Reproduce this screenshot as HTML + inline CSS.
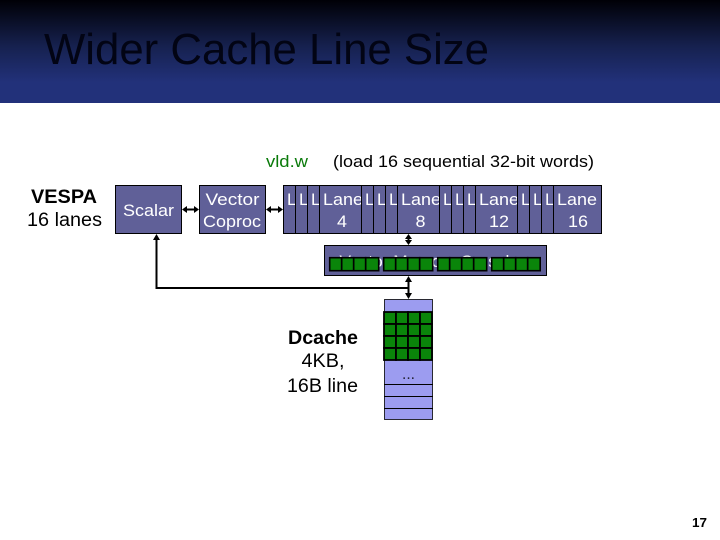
<!DOCTYPE html>
<html>
<head>
<meta charset="utf-8">
<style>
html,body{margin:0;padding:0;background:#fff;width:720px;height:540px;overflow:hidden}
svg{display:block}
text{font-family:"Liberation Sans",sans-serif}
</style>
</head>
<body>
<svg width="720" height="540" viewBox="0 0 720 540" xmlns="http://www.w3.org/2000/svg">
<defs>
<linearGradient id="g" x1="0" y1="0" x2="0" y2="1">
<stop offset="0" stop-color="#000006"/>
<stop offset="0.45" stop-color="#16214f"/>
<stop offset="0.8" stop-color="#22317a"/>
<stop offset="1" stop-color="#22317a"/>
</linearGradient>
</defs>
<rect x="0" y="0" width="720" height="103" fill="url(#g)"/>
<text x="44" y="64" font-size="44" fill="#020414" textLength="445" lengthAdjust="spacingAndGlyphs">Wider Cache Line Size</text>

<text x="266" y="167" font-size="17" fill="#0a7a0a" textLength="42" lengthAdjust="spacingAndGlyphs">vld.w</text>
<text x="333" y="167" font-size="17" fill="#000" textLength="261" lengthAdjust="spacingAndGlyphs">(load 16 sequential 32-bit words)</text>

<text x="31" y="203" font-size="19" font-weight="bold" fill="#000" textLength="66" lengthAdjust="spacingAndGlyphs">VESPA</text>
<text x="27" y="226" font-size="19" fill="#000" textLength="75" lengthAdjust="spacingAndGlyphs">16 lanes</text>

<g fill="#606098" stroke="#000" stroke-width="1">
<rect x="115.5" y="185.5" width="66" height="48"/>
<rect x="199.5" y="185.5" width="66" height="48"/>
<rect x="324.5" y="245.5" width="222" height="30"/>
</g>
<g fill="#fff" font-size="17">
<text x="123" y="216" textLength="51" lengthAdjust="spacingAndGlyphs">Scalar</text>
<text x="205.5" y="205" textLength="54" lengthAdjust="spacingAndGlyphs">Vector</text>
<text x="203" y="227" textLength="58" lengthAdjust="spacingAndGlyphs">Coproc</text>
<text x="339.5" y="267" textLength="191" lengthAdjust="spacingAndGlyphs">Vector Memory Crossbar</text>
</g>

<g font-size="17" fill="#fff">
<rect x="283.5" y="185.5" width="12" height="48" fill="#606098" stroke="#000"/><text x="287" y="205" textLength="9.5" lengthAdjust="spacingAndGlyphs">L</text>
<rect x="295.5" y="185.5" width="12" height="48" fill="#606098" stroke="#000"/><text x="299" y="205" textLength="9.5" lengthAdjust="spacingAndGlyphs">L</text>
<rect x="307.5" y="185.5" width="12" height="48" fill="#606098" stroke="#000"/><text x="311" y="205" textLength="9.5" lengthAdjust="spacingAndGlyphs">L</text>
<rect x="319.5" y="185.5" width="42" height="48" fill="#606098" stroke="#000"/><text x="323" y="205" textLength="40" lengthAdjust="spacingAndGlyphs">Lane</text><text x="337" y="227" textLength="10" lengthAdjust="spacingAndGlyphs">4</text>
<rect x="361.5" y="185.5" width="12" height="48" fill="#606098" stroke="#000"/><text x="365" y="205" textLength="9.5" lengthAdjust="spacingAndGlyphs">L</text>
<rect x="373.5" y="185.5" width="12" height="48" fill="#606098" stroke="#000"/><text x="377" y="205" textLength="9.5" lengthAdjust="spacingAndGlyphs">L</text>
<rect x="385.5" y="185.5" width="12" height="48" fill="#606098" stroke="#000"/><text x="389" y="205" textLength="9.5" lengthAdjust="spacingAndGlyphs">L</text>
<rect x="397.5" y="185.5" width="42" height="48" fill="#606098" stroke="#000"/><text x="401" y="205" textLength="40" lengthAdjust="spacingAndGlyphs">Lane</text><text x="415.5" y="227" textLength="10" lengthAdjust="spacingAndGlyphs">8</text>
<rect x="439.5" y="185.5" width="12" height="48" fill="#606098" stroke="#000"/><text x="443" y="205" textLength="9.5" lengthAdjust="spacingAndGlyphs">L</text>
<rect x="451.5" y="185.5" width="12" height="48" fill="#606098" stroke="#000"/><text x="455" y="205" textLength="9.5" lengthAdjust="spacingAndGlyphs">L</text>
<rect x="463.5" y="185.5" width="12" height="48" fill="#606098" stroke="#000"/><text x="467" y="205" textLength="9.5" lengthAdjust="spacingAndGlyphs">L</text>
<rect x="475.5" y="185.5" width="42" height="48" fill="#606098" stroke="#000"/><text x="479" y="205" textLength="40" lengthAdjust="spacingAndGlyphs">Lane</text><text x="489" y="227" textLength="20" lengthAdjust="spacingAndGlyphs">12</text>
<rect x="517.5" y="185.5" width="12" height="48" fill="#606098" stroke="#000"/><text x="521" y="205" textLength="9.5" lengthAdjust="spacingAndGlyphs">L</text>
<rect x="529.5" y="185.5" width="12" height="48" fill="#606098" stroke="#000"/><text x="533" y="205" textLength="9.5" lengthAdjust="spacingAndGlyphs">L</text>
<rect x="541.5" y="185.5" width="12" height="48" fill="#606098" stroke="#000"/><text x="545" y="205" textLength="9.5" lengthAdjust="spacingAndGlyphs">L</text>
<rect x="553.5" y="185.5" width="48" height="48" fill="#606098" stroke="#000"/><text x="557" y="205" textLength="40" lengthAdjust="spacingAndGlyphs">Lane</text><text x="568" y="227" textLength="20" lengthAdjust="spacingAndGlyphs">16</text>
</g>

<g fill="#0a850a" stroke="#000" stroke-width="1.6">
<rect x="329.7" y="257.7" width="12" height="13"/><rect x="341.7" y="257.7" width="12" height="13"/><rect x="353.7" y="257.7" width="12" height="13"/><rect x="365.7" y="257.7" width="13" height="13"/>
<rect x="383.7" y="257.7" width="12" height="13"/><rect x="395.7" y="257.7" width="12" height="13"/><rect x="407.7" y="257.7" width="12" height="13"/><rect x="419.7" y="257.7" width="13" height="13"/>
<rect x="437.7" y="257.7" width="12" height="13"/><rect x="449.7" y="257.7" width="12" height="13"/><rect x="461.7" y="257.7" width="12" height="13"/><rect x="473.7" y="257.7" width="13" height="13"/>
<rect x="491.7" y="257.7" width="12" height="13"/><rect x="503.7" y="257.7" width="12" height="13"/><rect x="515.7" y="257.7" width="12" height="13"/><rect x="527.7" y="257.7" width="12.5" height="13"/>
</g>

<rect x="384.5" y="299.5" width="48" height="120" fill="#9c9cf0" stroke="#000" stroke-width="0.8"/>
<path stroke="#000" stroke-width="1" d="M384 384.5h49M384 396.5h49M384 408.5h49" fill="none"/>
<text x="402" y="379" font-size="16" fill="#223" textLength="13" lengthAdjust="spacingAndGlyphs">...</text>
<g fill="#0a850a" stroke="#000" stroke-width="1.8">
<rect x="384" y="312" width="12" height="12"/><rect x="396" y="312" width="12" height="12"/><rect x="408" y="312" width="12" height="12"/><rect x="420" y="312" width="12" height="12"/>
<rect x="384" y="324" width="12" height="12"/><rect x="396" y="324" width="12" height="12"/><rect x="408" y="324" width="12" height="12"/><rect x="420" y="324" width="12" height="12"/>
<rect x="384" y="336" width="12" height="12"/><rect x="396" y="336" width="12" height="12"/><rect x="408" y="336" width="12" height="12"/><rect x="420" y="336" width="12" height="12"/>
<rect x="384" y="348" width="12" height="12"/><rect x="396" y="348" width="12" height="12"/><rect x="408" y="348" width="12" height="12"/><rect x="420" y="348" width="12" height="12"/>
</g>

<text x="288" y="344" font-size="19" font-weight="bold" fill="#000" textLength="70" lengthAdjust="spacingAndGlyphs">Dcache</text>
<text x="301.5" y="367" font-size="19" fill="#000" textLength="43" lengthAdjust="spacingAndGlyphs">4KB,</text>
<text x="287" y="392" font-size="19" fill="#000" textLength="71" lengthAdjust="spacingAndGlyphs">16B line</text>

<path d="M186 209.5h9M270 209.5h9M408.5 238v3M156.5 240V288H408.5M408.5 280v15" stroke="#000" stroke-width="2" fill="none"/>
<g fill="#000">
<path d="M182 209.5l5-3.5v7z"/><path d="M199 209.5l-5-3.5v7z"/>
<path d="M266 209.5l5-3.5v7z"/><path d="M283 209.5l-5-3.5v7z"/>
<path d="M408.5 234l-3.5 5h7z"/><path d="M408.5 245l-3.5-5h7z"/>
<path d="M156.5 234l-3.5 6h7z"/>
<path d="M408.5 276l-3.5 6h7z"/><path d="M408.5 299l-3.5-6h7z"/>
</g>

<text x="692" y="527" font-size="13" font-weight="bold" fill="#000" textLength="15" lengthAdjust="spacingAndGlyphs">17</text>
</svg>
</body>
</html>
